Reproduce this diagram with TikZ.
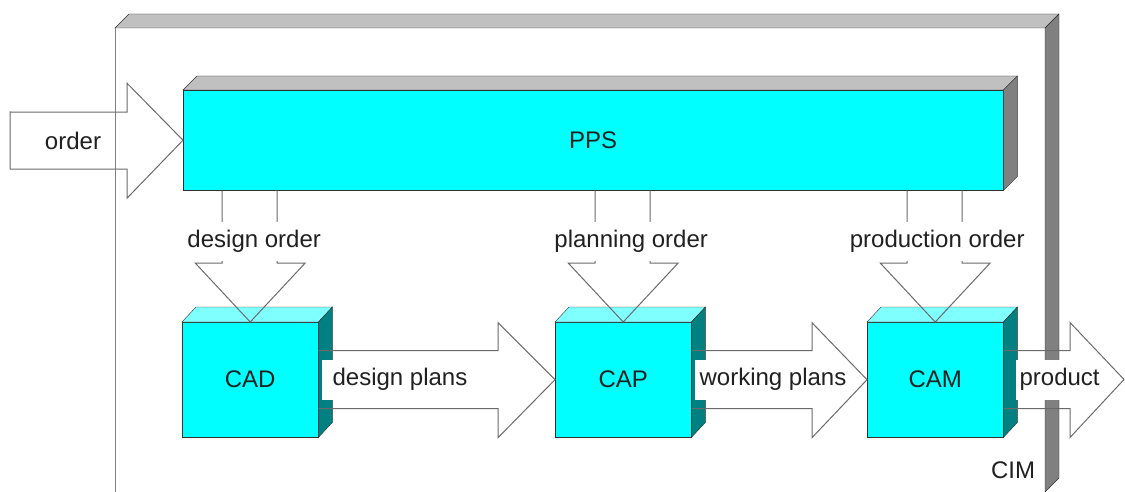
\documentclass[tikz,border=0pt]{standalone}
\usepackage{fontspec}
\setmainfont{Liberation Sans}
\usetikzlibrary{calc}
\definecolor{cy}{HTML}{00FFFF}
\definecolor{cytop}{HTML}{80FFFF}
\definecolor{cyside}{HTML}{008080}
\definecolor{gtop}{HTML}{C0C0C0}
\definecolor{gside}{HTML}{808080}
\definecolor{edge}{HTML}{303030}
\definecolor{arr}{HTML}{6A6A6A}
\definecolor{txt}{HTML}{202020}
\begin{document}
\begin{tikzpicture}[x=1pt,y=-1pt,
  font=\fontsize{24}{28}\selectfont, text=txt,
  front/.style={draw=edge, fill=cy, anchor=north west, inner sep=0pt},
  topface/.style={draw=edge, fill=cytop},
  sideface/.style={draw=edge, fill=cyside},
  blockarrow/.style={draw=arr, line width=1pt},
  lbl/.style={fill=white, inner ysep=2pt, anchor=west, minimum height=40pt},
  vlbl/.style={fill=white, inner sep=1pt, minimum height=39pt}]
\useasboundingbox (0,0) rectangle (1125,492);

% CIM frame
\filldraw[draw=edge, fill=gtop] (115,28) -- (129,14) -- (1059,14) -- (1045,28) -- cycle;
\filldraw[draw=edge, fill=gside] (1045,28) -- (1059,14) -- (1059,478) -- (1045,492) -- cycle;
\draw[draw=gside] (115,492) -- (115,28);
\node[anchor=center] (cim) at (1013,470) {CIM};

% PPS
\node[front, minimum width=820pt, minimum height=100pt] (pps) at (183,90) {PPS};
\filldraw[draw=edge, fill=gtop] (pps.north west) -- ++(14,-14) -- ($(pps.north east)+(14,-14)$) -- (pps.north east) -- cycle;
\filldraw[draw=edge, fill=gside] (pps.north east) -- ++(14,-14) -- ($(pps.south east)+(14,-14)$) -- (pps.south east) -- cycle;

% CAD / CAP / CAM
\foreach \n/\t/\x in {cad/CAD/182, cap/CAP/555, cam/CAM/867}{
  \node[front, minimum width=136pt, minimum height=115pt] (\n) at (\x,322) {\t};
  \filldraw[topface] (\n.north west) -- ++(14,-15) -- ($(\n.north east)+(14,-15)$) -- (\n.north east) -- cycle;
  \filldraw[sideface] (\n.north east) -- ++(14,-15) -- ($(\n.south east)+(14,-15)$) -- (\n.south east) -- cycle;
}

% order arrow
\coordinate (ordstart) at (10,140);
\draw[blockarrow] ($(ordstart)+(0,-28)$) -- ($(pps.west)+(-56,-28)$) -- ($(pps.west)+(-56,-57)$) -- (pps.west)
  -- ($(pps.west)+(-56,58)$) -- ($(pps.west)+(-56,29)$) -- ($(ordstart)+(0,29)$) -- cycle;
\node (order) at (73,141) {order};

% downward block arrows
\foreach \n/\t/\dx in {cad/design order/4, cap/planning order/8, cam/production order/2}{
  \draw[blockarrow] ($(pps.south -| \n.north)+(-28,0)$) -- ($(\n.north)+(-28,-59)$) -- ($(\n.north)+(-55,-59)$)
    -- (\n.north) -- ($(\n.north)+(55,-59)$) -- ($(\n.north)+(27,-59)$) -- ($(pps.south -| \n.north)+(27,0)$);
  \node[vlbl] (\n lbl) at ($(\n.north)+(\dx,-81)$) {\t};
}

% horizontal block arrows (labels first, outlines on top)
\node[lbl, inner xsep=11pt] (dp) at ($(cad.east)+(3,0)$) {design plans};
\node[lbl, inner xsep=5pt] (wp) at ($(cap.east)+(3,0)$) {working plans};
\node[lbl, inner xsep=4pt] (pr) at ($(cam.east)+(12,0)$) {product};
\coordinate (prodtip) at (1124,379.5);
\draw[blockarrow] ($(cad.east)+(0,-29)$) -- ($(cap.west)+(-57,-29)$) -- ($(cap.west)+(-57,-57)$) -- (cap.west)
  -- ($(cap.west)+(-57,58)$) -- ($(cap.west)+(-57,29)$) -- ($(cad.east)+(0,29)$);
\draw[blockarrow] ($(cap.east)+(0,-29)$) -- ($(cam.west)+(-55,-29)$) -- ($(cam.west)+(-55,-57)$) -- (cam.west)
  -- ($(cam.west)+(-55,58)$) -- ($(cam.west)+(-55,29)$) -- ($(cap.east)+(0,29)$);
\draw[blockarrow] ($(cam.east)+(0,-29)$) -- ($(prodtip)+(-54,-29)$) -- ($(prodtip)+(-54,-57)$) -- (prodtip)
  -- ($(prodtip)+(-54,58)$) -- ($(prodtip)+(-54,29)$) -- ($(cam.east)+(0,29)$);
\end{tikzpicture}
\end{document}
